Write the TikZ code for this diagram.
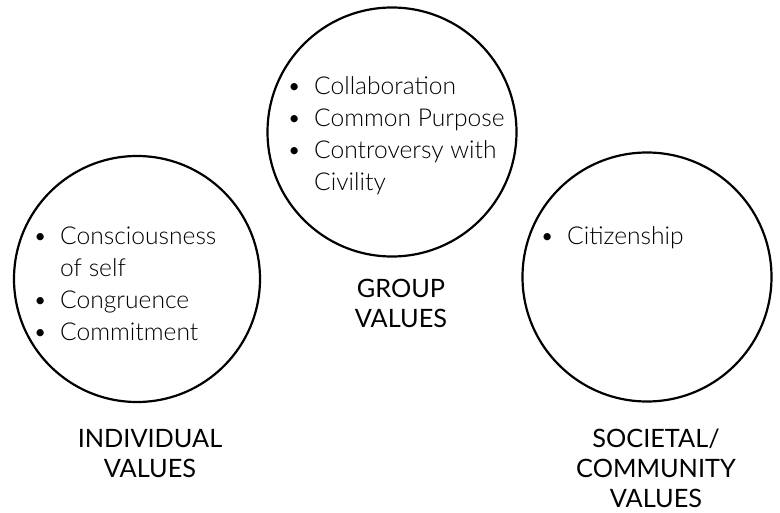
\documentclass[tikz,border=0pt]{standalone}
\usepackage{fontspec}
\setmainfont{Lato}
\newfontfamily\lightfont{Lato Light}
\newlength\bw
\setlength\bw{27pt}
\newcommand\bitem[1]{\makebox[\bw][l]{\textbullet}#1}
\newcommand\bcont[1]{\hspace*{\bw}#1}
\tikzset{
  ring/.style={circle, draw=black, line width=2.2pt, minimum size=#1, inner sep=0pt},
  items/.style={anchor=base west, inner sep=0pt, text=black,
    font=\lightfont\fontsize{24.6}{32}\selectfont},
  label/.style={anchor=base, inner sep=0pt, align=center, text=black,
    font=\fontsize{25.3}{30}\selectfont},
}
\begin{document}
\begin{tikzpicture}[x=1pt,y=-1pt]
\useasboundingbox (0,0) rectangle (780,513);
\node[ring=246pt] (ind) at (137,279) {};
\node[ring=249pt] (grp) at (392,132) {};
\node[ring=249pt] (soc) at (647,277) {};
\node[items] (indtxt) at (33,245) {\begin{tabular}[t]{@{}l@{}}
\bitem{Consciousness}\\ \bcont{of self}\\ \bitem{Congruence}\\ \bitem{Commitment}\end{tabular}};
\node[items] (grptxt) at (287,95) {\begin{tabular}[t]{@{}l@{}}
\bitem{Collaboration}\\ \bitem{Common Purpose}\\ \bitem{Controversy with}\\ \bcont{Civility}\end{tabular}};
\node[items] (soctxt) at (540,245) {\begin{tabular}[t]{@{}l@{}}
\bitem{Citizenship}\end{tabular}};
\node[label] (indlab) at (150,447) {\begin{tabular}[t]{@{}c@{}}INDIVIDUAL\\VALUES\end{tabular}};
\node[label] (grplab) at (401,298) {\begin{tabular}[t]{@{}c@{}}GROUP\\VALUES\end{tabular}};
\node[label] (soclab) at (656,447) {\begin{tabular}[t]{@{}c@{}}SOCIETAL/\\COMMUNITY\\VALUES\end{tabular}};
\end{tikzpicture}
\end{document}
